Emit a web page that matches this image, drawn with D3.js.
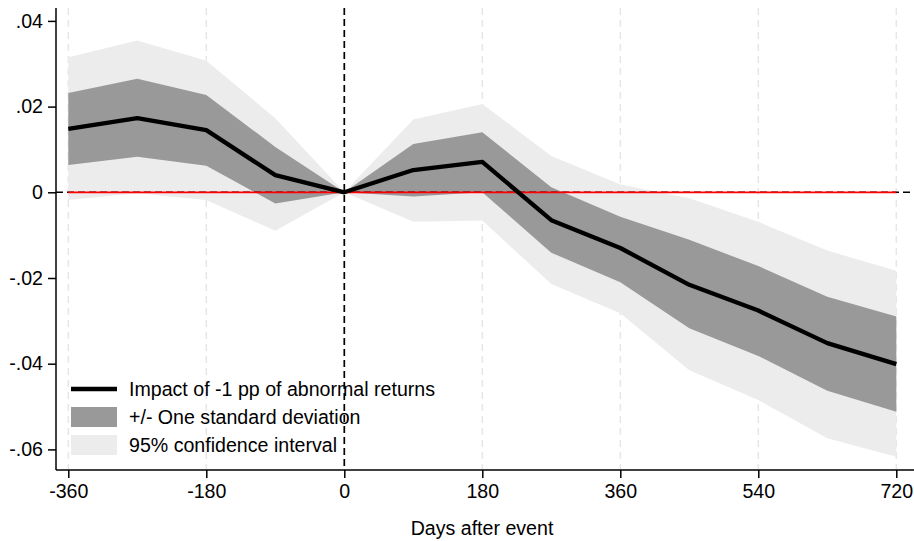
<!DOCTYPE html>
<html><head><meta charset="utf-8">
<script src="https://cdn.jsdelivr.net/npm/d3@7"></script>
<style>body{margin:0;background:#fff}svg{display:block}text{font-family:"Liberation Sans",Arial,sans-serif}</style>
</head><body><svg id="c" width="914" height="541"></svg>
<script>
const days = [-360,-270,-180,-90,0,90,180,270,360,450,540,630,720];
const impact = [0.0148,0.0173,0.0145,0.0040,0,0.0052,0.0071,-0.0065,-0.0130,-0.0216,-0.0276,-0.0352,-0.0401];
const sdUpper = [0.0232,0.0265,0.0227,0.0106,0,0.0113,0.0140,0.0012,-0.0057,-0.0111,-0.0172,-0.0244,-0.0290];
const sdLower = [0.0064,0.0083,0.0062,-0.0026,0,-0.0010,0.0000,-0.0141,-0.0210,-0.0317,-0.0382,-0.0463,-0.0512];
const ciUpper = [0.0315,0.0354,0.0307,0.0173,0,0.0170,0.0206,0.0085,0.0018,-0.0014,-0.0069,-0.0136,-0.0183];
const ciLower = [-0.0018,-0.0002,-0.0018,-0.0090,0,-0.0069,-0.0066,-0.0214,-0.0282,-0.0415,-0.0485,-0.0574,-0.0617];
const xTicks = [-360,-180,0,180,360,540,720];
const xTickLabels = ["-360","-180","0","180","360","540","720"];
const yTicks = [0.04,0.02,0,-0.02,-0.04,-0.06];
const yTickLabels = [".04",".02","0","-.02","-.04","-.06"];
const legendLabels = ["Impact of -1 pp of abnormal returns","+/- One standard deviation","95% confidence interval"];

const FS = 19.6;
const svg = d3.select("#c");
const L=56, R=912, T=8, B=470;
const x = d3.scaleLinear().domain([-360,720]).range([68.3,896.3]);
const y = d3.scaleLinear().domain([-0.06,0.04]).range([449.4,20.9]);
const pts = days.map((d,i)=>({d,m:impact[i],su:sdUpper[i],sl:sdLower[i],cu:ciUpper[i],cl:ciLower[i]}));

// grid
svg.append("g").selectAll("line").data(xTicks.filter(t=>t!==0)).join("line")
  .attr("x1",d=>x(d)).attr("x2",d=>x(d)).attr("y1",T).attr("y2",B)
  .attr("stroke","#e6e6e6").attr("stroke-width",1.5).attr("stroke-dasharray","7,5");

// bands
svg.append("path").datum(pts).attr("fill","#ececec")
  .attr("d",d3.area().x(p=>x(p.d)).y0(p=>y(p.cl)).y1(p=>y(p.cu)));
svg.append("path").datum(pts).attr("fill","#999999")
  .attr("d",d3.area().x(p=>x(p.d)).y0(p=>y(p.sl)).y1(p=>y(p.su)));

// reference lines
svg.append("line").attr("x1",L).attr("x2",R).attr("y1",y(0)).attr("y2",y(0))
  .attr("stroke","#000").attr("stroke-width",1.5).attr("stroke-dasharray","7,4");
svg.append("line").attr("x1",x(0)).attr("x2",x(0)).attr("y1",T).attr("y2",B)
  .attr("stroke","#000").attr("stroke-width",1.7).attr("stroke-dasharray","7,4");
svg.append("line").attr("x1",x(-360)).attr("x2",x(720)).attr("y1",y(0)).attr("y2",y(0))
  .attr("stroke","#ff0000").attr("stroke-width",1.8);

// main line
svg.append("path").datum(pts).attr("fill","none").attr("stroke","#000").attr("stroke-width",4.3)
  .attr("stroke-linejoin","round")
  .attr("d",d3.line().x(p=>x(p.d)).y(p=>y(p.m)));

// axes
const yAxis = d3.axisLeft(y).tickValues(yTicks).tickSize(8).tickPadding(5)
  .tickFormat((d,i)=>yTickLabels[i]);
const gy = svg.append("g").attr("transform",`translate(${L},0)`).call(yAxis);
gy.select(".domain").remove();
gy.append("line").attr("x1",0).attr("x2",0).attr("y1",T).attr("y2",B).attr("stroke","#000").attr("stroke-width",1.5);
gy.selectAll(".tick line").attr("stroke","#000").attr("stroke-width",1.5);
gy.selectAll("text").attr("font-size",FS).attr("fill","#000").attr("font-family","Liberation Sans, Arial, sans-serif");

const xAxis = d3.axisBottom(x).tickValues(xTicks).tickSize(8).tickPadding(6).tickFormat((d,i)=>xTickLabels[i]);
const gx = svg.append("g").attr("transform",`translate(0,${B})`).call(xAxis);
gx.select(".domain").remove();
gx.append("line").attr("x1",L).attr("x2",R+2).attr("y1",0).attr("y2",0).attr("stroke","#000").attr("stroke-width",1.5);
gx.selectAll(".tick line").attr("stroke","#000").attr("stroke-width",1.5);
gx.selectAll("text").attr("font-size",FS).attr("fill","#000").attr("font-family","Liberation Sans, Arial, sans-serif");

svg.append("text").attr("x",482).attr("y",535).attr("text-anchor","middle")
  .attr("font-size",FS).text("Days after event");

// legend
const lg = svg.append("g");
const rowY = [389,417,445];
lg.append("line").attr("x1",71).attr("x2",117).attr("y1",rowY[0]).attr("y2",rowY[0])
  .attr("stroke","#000").attr("stroke-width",4.3);
lg.append("rect").attr("x",71).attr("y",rowY[1]-10).attr("width",46).attr("height",20).attr("fill","#999999");
lg.append("rect").attr("x",71).attr("y",rowY[2]-10).attr("width",46).attr("height",20).attr("fill","#ececec");
lg.selectAll("text").data(legendLabels).join("text")
  .attr("x",129).attr("y",(d,i)=>rowY[i]+7).attr("font-size",FS).attr("fill","#000").text(d=>d);
</script></body></html>
